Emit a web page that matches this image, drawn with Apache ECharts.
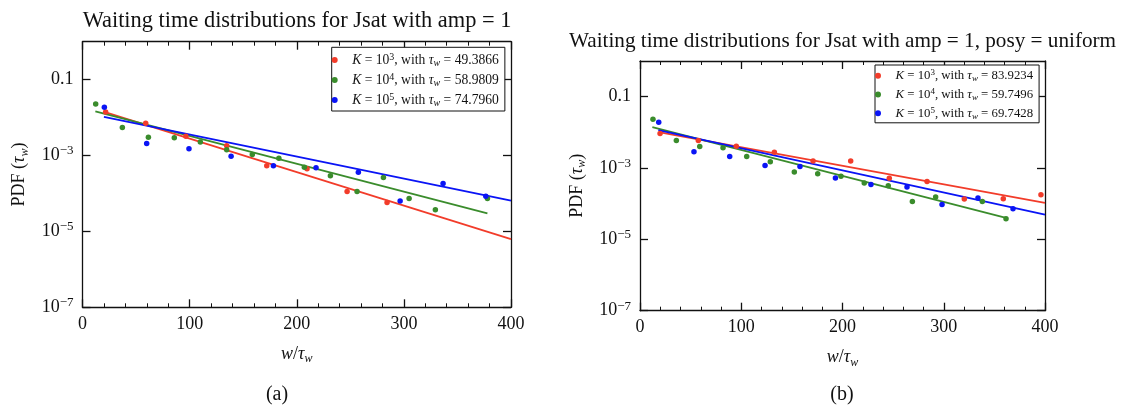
<!DOCTYPE html>
<html><head><meta charset="utf-8">
<script src="https://cdn.jsdelivr.net/npm/echarts@6/dist/echarts.min.js"></script>
<style>html,body{margin:0;padding:0;background:#fff}#c{width:1126px;height:408px}</style>
</head><body><div id="c"></div>
<script>
// ---------- data: panel (a) ----------
const aRedX = [21.6, 59, 96.5, 134.6, 172, 209.6, 247, 284.3];
const aRedY = [0.0141, 0.00708, 0.0032, 0.00182, 0.000537, 0.000447, 0.000112, 5.75e-5];
const aGreenX = [12.3, 37.2, 61.5, 85.7, 110, 134.6, 158.5, 183.3, 207.1, 231.4, 256.3, 280.9, 304.9, 329.4, 378];
const aGreenY = [0.0229, 0.0055, 0.00302, 0.00295, 0.00229, 0.00141, 0.00107, 0.000851, 0.00049, 0.000295, 0.000112, 0.000263, 7.4e-5, 3.7e-5, 7.4e-5];
const aBlueX = [20.4, 59.9, 99.4, 138.7, 178.2, 218, 257.5, 296.5, 336.6, 376.5];
const aBlueY = [0.0186, 0.00209, 0.00151, 0.000955, 0.000537, 0.000479, 0.000363, 6.3e-5, 0.000182, 8.5e-5];
// fitted lines (end points)
const aRedFit = [[21, 0.014], [400, 6.3e-6]];
const aGreenFit = [[12, 0.0145], [378, 3.0e-5]];
const aBlueFit = [[20, 0.0105], [400, 6.5e-5]];
// ---------- data: panel (b) ----------
const bRedX = [19.8, 57.6, 95.1, 132.7, 170.9, 208.1, 246.2, 283.5, 320.3, 358.8, 396];
const bRedY = [0.00933, 0.00589, 0.00407, 0.00275, 0.00158, 0.00158, 0.000513, 0.000417, 0.000135, 0.000138, 0.000178];
const bGreenX = [12.8, 35.9, 59, 82, 105.4, 128.7, 152.4, 175.5, 198.5, 221.5, 245.2, 269, 292, 338.1, 361.5];
const bGreenY = [0.0234, 0.00589, 0.00398, 0.00372, 0.00209, 0.00151, 0.000776, 0.000692, 0.000589, 0.00038, 0.000316, 0.000115, 0.000155, 0.000115, 3.8e-5];
const bBlueX = [18.5, 53.3, 88.6, 123.5, 158, 193, 228.1, 263.7, 298.3, 333.8, 368.4];
const bBlueY = [0.0191, 0.00288, 0.00209, 0.00117, 0.0011, 0.000525, 0.000347, 0.000295, 9.5e-5, 0.000145, 7.2e-5];
const bRedFit = [[19.8, 0.0100], [400, 1.05e-4]];
const bGreenFit = [[12.2, 0.0141], [361.5, 4.0e-5]];
const bBlueFit = [[18.1, 0.01148], [400, 4.9e-5]];
// ---------- labels ----------
const titleA = 'Waiting time distributions for Jsat with amp = 1';
const titleB = 'Waiting time distributions for Jsat with amp = 1, posy = uniform';
const legendA = {a3: ['3', '49.3866'], a4: ['4', '58.9809'], a5: ['5', '74.7960']};
const legendB = {b3: ['3', '83.9234'], b4: ['4', '59.7496'], b5: ['5', '69.7428']};
const yTicks = [1e-7, 1e-5, 1e-3, 0.1];

const RED = '#f23c2a', GREEN = '#3a8c2c', BLUE = '#0a14f5', INK = '#111';
const FONT = 'Liberation Serif';
const zip = (xs, ys) => xs.map((x, i) => [x, ys[i]]);

function xAx(grid, pos, showLabel) {
  return {
    type: 'value', gridIndex: grid, position: pos, min: 0, max: 400, interval: 100,
    axisLine: {show: true, onZero: false, lineStyle: {color: INK, width: 1.3}},
    axisTick: {show: true, inside: true, length: 8, lineStyle: {color: INK, width: 1.3}},
    minorTick: {show: true, splitNumber: 5, length: 4, lineStyle: {color: INK, width: 1}},
    splitLine: {show: false}, minorSplitLine: {show: false},
    axisLabel: {show: showLabel, fontFamily: FONT, fontSize: 18, color: INK, margin: 8},
    name: showLabel ? '{i|w}/{i|τ}{sub|w}' : '', nameLocation: 'middle', nameGap: 36,
    nameTextStyle: {fontFamily: FONT, fontSize: 18, color: INK, lineHeight: 22,
      rich: {i: {fontStyle: 'italic', fontFamily: FONT, fontSize: 18, lineHeight: 22},
             sub: {fontStyle: 'italic', fontFamily: FONT, fontSize: 12, verticalAlign: 'bottom', lineHeight: 14}}}
  };
}
function yAx(grid, pos, showLabel) {
  return {
    type: 'log', logBase: 10, gridIndex: grid, position: pos, min: 1e-7, max: 1,
    axisLine: {show: true, onZero: false, lineStyle: {color: INK, width: 1.3}},
    axisTick: {show: true, inside: true, length: 8, customValues: yTicks, lineStyle: {color: INK, width: 1.3}},
    minorTick: {show: false}, splitLine: {show: false},
    axisLabel: {show: showLabel, customValues: yTicks, fontFamily: FONT, fontSize: 18, color: INK, margin: 9,
      lineHeight: 22,
      formatter: v => v >= 0.09 ? '0.1' : '10{sup|−' + Math.round(-Math.log10(v)) + '}',
      rich: {sup: {fontFamily: FONT, fontSize: 13, verticalAlign: 'top', lineHeight: 13}}},
    name: showLabel ? 'PDF ({i|τ}{sub|w})' : '', nameLocation: 'middle', nameRotate: 90, nameGap: 52,
    nameTextStyle: {fontFamily: FONT, fontSize: 18, color: INK, lineHeight: 22,
      rich: {i: {fontStyle: 'italic', fontFamily: FONT, fontSize: 18, lineHeight: 22},
             sub: {fontStyle: 'italic', fontFamily: FONT, fontSize: 12, verticalAlign: 'bottom', lineHeight: 14}}}
  };
}
function scat(name, xi, data, color) {
  return {type: 'scatter', name, xAxisIndex: xi, yAxisIndex: xi, data, symbol: 'circle', symbolSize: 5.5,
    itemStyle: {color, opacity: 1}, z: 3, silent: true};
}
function fit(xi, data, color) {
  return {type: 'line', xAxisIndex: xi, yAxisIndex: xi, data, showSymbol: false, symbol: 'none',
    lineStyle: {color, width: 1.8}, z: 2, silent: true};
}
function legend(map, left, top, fs, lh, gap, pad) {
  return {
    data: Object.keys(map).map(k => ({name: k, icon: 'circle', itemStyle: {opacity: 1}})),
    orient: 'vertical', left, top, itemWidth: 25, itemHeight: 6, itemGap: gap,
    padding: pad, borderColor: INK, borderWidth: 1, backgroundColor: '#fff', borderRadius: 0,
    selectedMode: false,
    formatter: n => '{i|K} = 10{sup|' + map[n][0] + '}, with {i|τ}{sub|w} = ' + map[n][1],
    textStyle: {fontFamily: FONT, fontSize: fs, color: INK, lineHeight: lh,
      rich: {i: {fontStyle: 'italic', fontFamily: FONT, fontSize: fs, lineHeight: lh},
             sup: {fontFamily: FONT, fontSize: Math.round(fs * 0.72), verticalAlign: 'top', lineHeight: Math.round(fs * 0.75)},
             sub: {fontStyle: 'italic', fontFamily: FONT, fontSize: Math.round(fs * 0.72), verticalAlign: 'bottom', lineHeight: Math.round(fs * 0.8)}}}
  };
}

const chart = echarts.init(document.getElementById('c'), null, {renderer: 'canvas'});
chart.setOption({
  animation: false,
  backgroundColor: '#fff',
  grid: [
    {left: 82.5, right: 615, top: 41.7, bottom: 100.7, containLabel: false},
    {left: 640, right: 81, top: 61, bottom: 97.3, containLabel: false}
  ],
  xAxis: [xAx(0, 'bottom', true), xAx(0, 'top', false), xAx(1, 'bottom', true), xAx(1, 'top', false)],
  yAxis: [yAx(0, 'left', true), yAx(0, 'right', false), yAx(1, 'left', true), yAx(1, 'right', false)],
  legend: [legend(legendA, 331.7, 47.3, 13.6, 16, 4, [4.7, 6, 3, 0]),
           legend(legendB, 875, 65, 12.8, 15, 3.8, [3.2, 6, 2, 0])],
  graphic: [
    {type: 'text', x: 297, y: 21, style: {text: titleA, font: '22.4px "Liberation Serif"', fill: INK, align: 'center', verticalAlign: 'middle'}},
    {type: 'text', x: 842.5, y: 41, style: {text: titleB, font: '21.2px "Liberation Serif"', fill: INK, align: 'center', verticalAlign: 'middle'}},
    {type: 'text', x: 277, y: 395, style: {text: '(a)', font: '20px "Liberation Serif"', fill: INK, align: 'center', verticalAlign: 'middle'}},
    {type: 'text', x: 842, y: 395, style: {text: '(b)', font: '20px "Liberation Serif"', fill: INK, align: 'center', verticalAlign: 'middle'}}
  ],
  series: [
    fit(0, aRedFit, RED), fit(0, aGreenFit, GREEN), fit(0, aBlueFit, BLUE),
    scat('a3', 0, zip(aRedX, aRedY), RED), scat('a4', 0, zip(aGreenX, aGreenY), GREEN), scat('a5', 0, zip(aBlueX, aBlueY), BLUE),
    fit(2, bRedFit, RED), fit(2, bGreenFit, GREEN), fit(2, bBlueFit, BLUE),
    scat('b3', 2, zip(bRedX, bRedY), RED), scat('b4', 2, zip(bGreenX, bGreenY), GREEN), scat('b5', 2, zip(bBlueX, bBlueY), BLUE)
  ]
});
</script></body></html>
